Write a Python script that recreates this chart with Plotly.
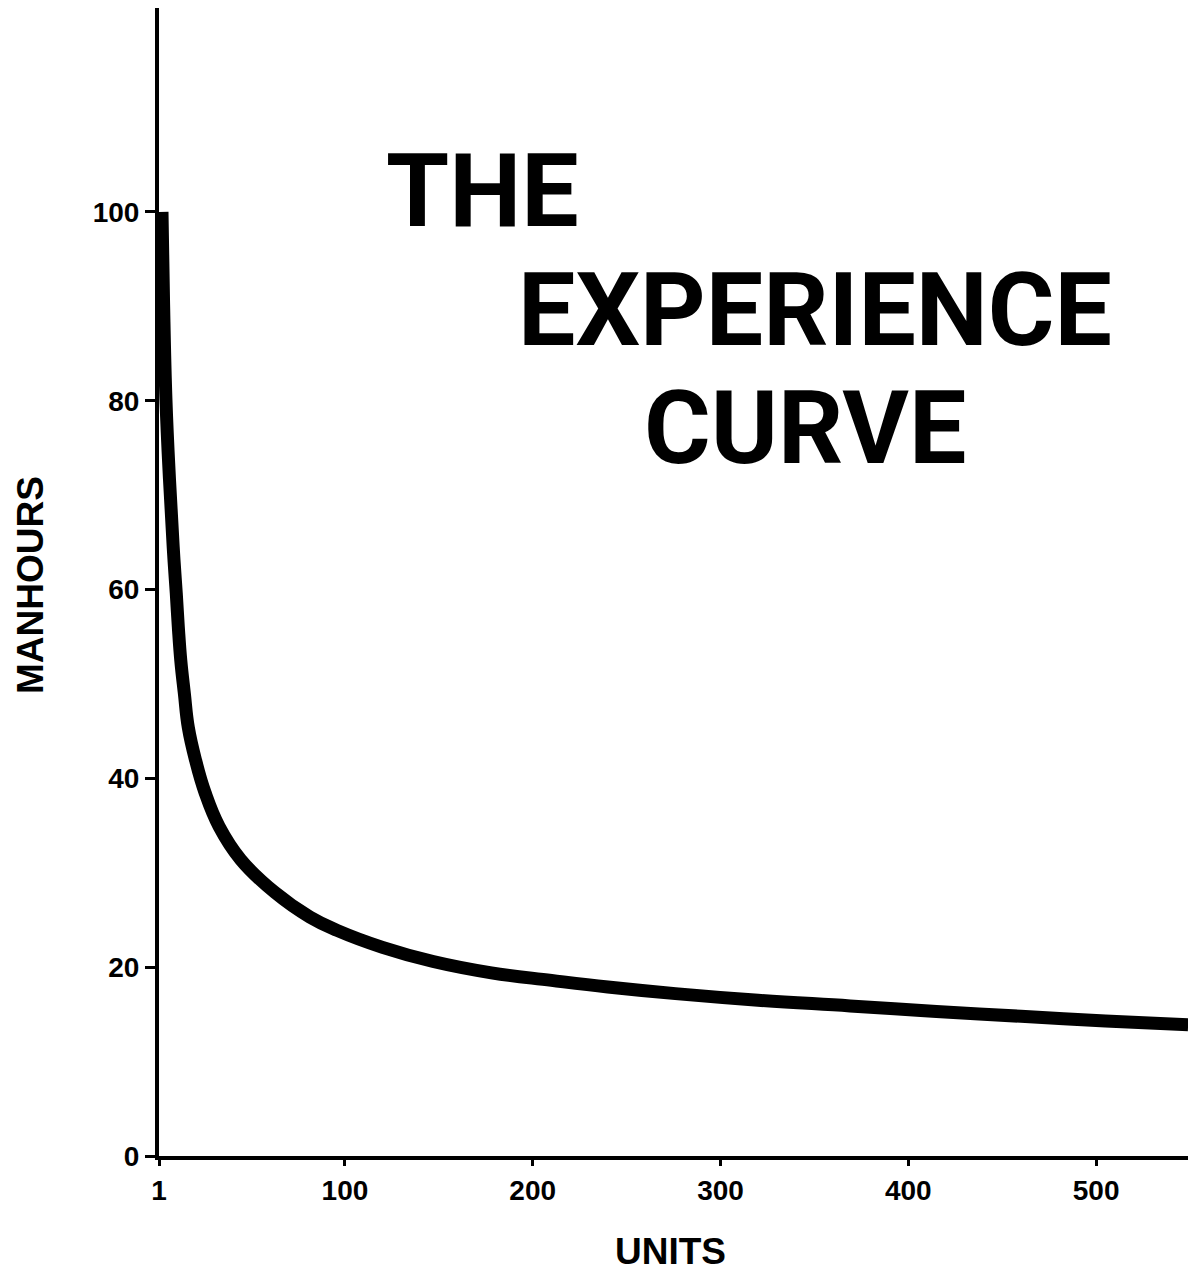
import plotly.graph_objects as go

# Data
units = [2.6, 3.4, 4.7, 6.6, 9.0, 10.2, 11.3, 12.6, 14.5, 16.6, 20.5, 25.5, 33.0, 44.5,
         62.8, 81.4, 95.8, 120, 147, 178, 210, 240, 276, 320, 369, 415, 460, 505, 549]
manhours = [100, 90.7, 80.1, 71.6, 63.1, 59.6, 56.0, 52.5, 49.0, 45.4, 41.9, 38.5, 34.9, 31.4,
            27.9, 25.3, 23.9, 22.1, 20.6, 19.4, 18.6, 17.9, 17.2, 16.5, 15.9, 15.3, 14.8, 14.3, 13.9]

x_tickvals = [1, 100, 200, 300, 400, 500]
x_ticktext = ["1", "100", "200", "300", "400", "500"]
y_tickvals = [0, 20, 40, 60, 80, 100]
y_ticktext = ["0", "20", "40", "60", "80", "100"]

title_lines = ["THE", "EXPERIENCE", "CURVE"]
x_title = "UNITS"
y_title = "MANHOURS"

# the page body has an 8px margin, so the figure is made 8px smaller
OFF = 8
W, H = 1196 - OFF, 1272 - OFF
PL, PR, PT, PB = 159, 1190, 8, 1156          # plot area in page pixels
L = PL - OFF
T = PT - OFF
R = W - (PR - OFF)
B = H - (PB - OFF)

fig = go.Figure()
fig.add_trace(go.Scatter(
    x=units, y=manhours, mode="lines",
    line=dict(color="black", width=13, shape="spline", smoothing=1.2),
    hoverinfo="skip", showlegend=False,
))

tickfont = dict(family="Liberation Sans, Arial, sans-serif", size=28, color="black", weight="bold")

fig.update_xaxes(
    range=[1, 550], tickvals=x_tickvals, ticktext=x_ticktext,
    showline=True, linecolor="black", linewidth=4,
    ticks="outside", ticklen=6, tickwidth=3, tickcolor="black",
    showgrid=False, zeroline=False, tickfont=tickfont,
)
fig.update_yaxes(
    range=[0, 121.6], tickvals=y_tickvals, ticktext=y_ticktext,
    showline=True, linecolor="black", linewidth=4,
    ticks="outside", ticklen=10, tickwidth=3, tickcolor="black",
    showgrid=False, zeroline=False, tickfont=tickfont,
)


def px_x(p):
    return (p - PL) / (PR - PL)


def px_y(p):
    return (PB - p) / (PB - PT)


big = dict(family="Roboto, Liberation Sans, Arial, sans-serif", size=102, color="black", weight="bold")
centers = [(482, 191), (815, 310), (805, 428)]
for txt, (cx, cy) in zip(title_lines, centers):
    fig.add_annotation(text=txt, x=px_x(cx), y=px_y(cy), xref="paper", yref="paper",
                       xanchor="center", yanchor="middle", showarrow=False, font=big)

axfont = dict(family="Liberation Sans, Arial, sans-serif", size=37, color="black", weight="bold")
fig.add_annotation(text=x_title, x=px_x(670), y=px_y(1251), xref="paper", yref="paper",
                   xanchor="center", yanchor="middle", showarrow=False, font=axfont)
fig.add_annotation(text=y_title, x=px_x(30), y=px_y(585), xref="paper", yref="paper",
                   xanchor="center", yanchor="middle", showarrow=False, font=axfont, textangle=-90)

fig.update_layout(
    width=W, height=H, margin=dict(l=L, r=R, t=T, b=B, autoexpand=False),
    paper_bgcolor="white", plot_bgcolor="white",
)

fig.write_html("out.html")
